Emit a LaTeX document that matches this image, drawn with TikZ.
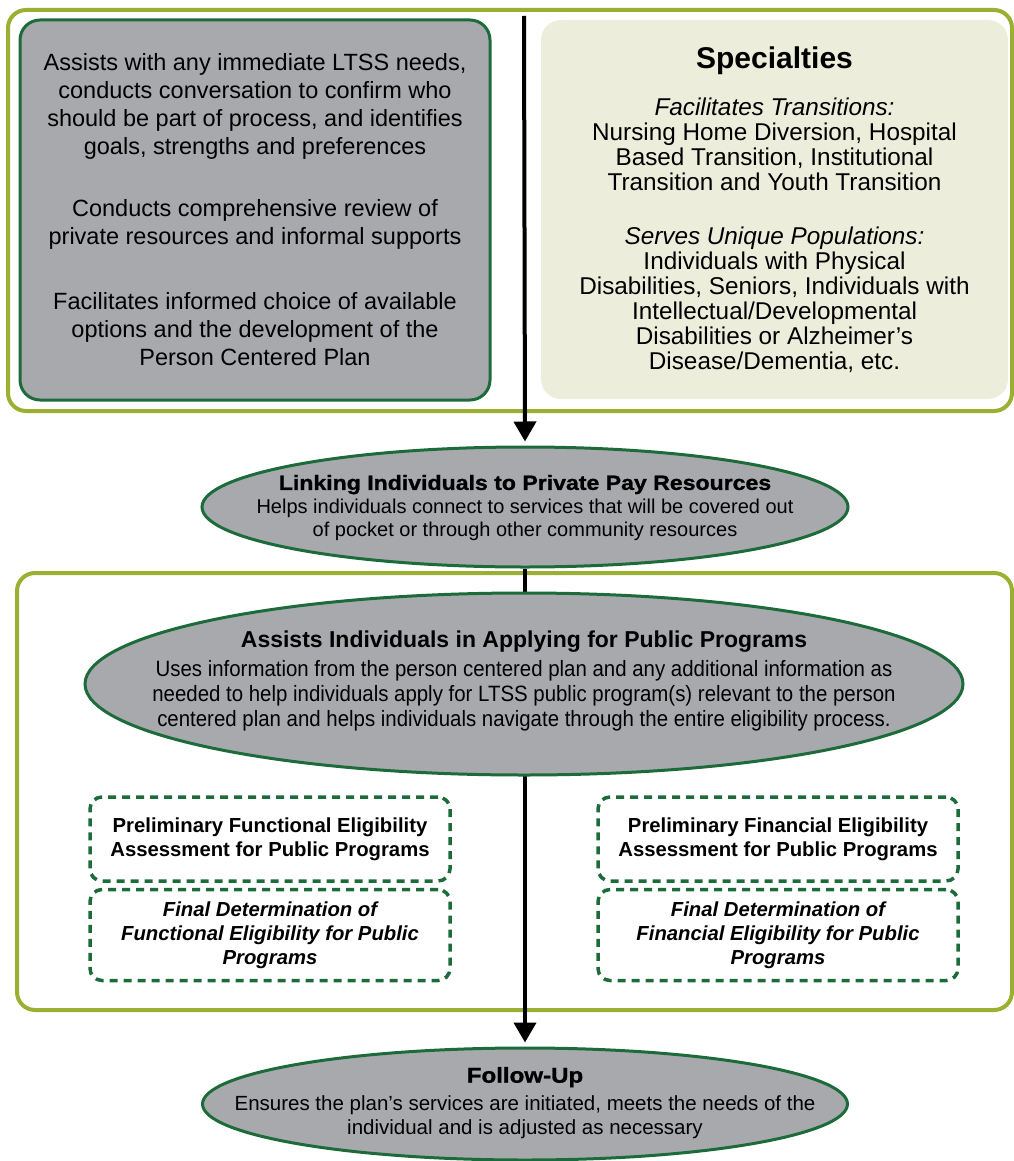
\documentclass[tikz,border=0pt]{standalone}
\usepackage{fontspec}
\setmainfont{Liberation Sans}
\newfontfamily\pubfont[FakeStretch=0.92]{Liberation Sans}
\newfontfamily\blackfont[FakeStretch=1.12,FakeBold=1.2]{Liberation Sans Bold}
\usetikzlibrary{shapes.geometric,arrows.meta}
\definecolor{oliveline}{HTML}{9BB032}
\definecolor{dkgreen}{HTML}{1D6B3B}
\definecolor{grayfill}{HTML}{A7A9AC}
\definecolor{lightfill}{HTML}{ECEEDB}
\pgfdeclarelayer{bg}
\pgfdeclarelayer{mid}
\pgfsetlayers{bg,mid,main}
\begin{document}
\begin{tikzpicture}[x=1pt,y=-1pt,
  oliveframe/.style={draw=oliveline,line width=4pt,rounded corners=18pt},
  graybox/.style={draw=dkgreen,fill=grayfill,line width=3pt,rounded corners=20pt,align=center,inner sep=0pt},
  specbox/.style={fill=lightfill,rounded corners=20pt,align=center,inner sep=0pt},
  oval/.style={ellipse,draw=dkgreen,fill=grayfill,line width=3pt,inner sep=0pt},
  ovaltext/.style={align=center,inner sep=0pt},
  dashbox/.style={draw=dkgreen,line width=3.5pt,dash pattern=on 8pt off 6pt,rounded corners=12pt,
    minimum width=360pt,align=center,inner sep=0pt},
  flow/.style={line width=4pt,-{Triangle[width=22pt,length=20pt]},shorten >=4pt}
]
\useasboundingbox (0,0) rectangle (1013,1161);

\begin{pgfonlayer}{bg}
\draw[oliveframe] (8,10) rectangle (1012,411);
\draw[oliveframe] (17,573) rectangle (1012,1010);
\end{pgfonlayer}

\node[graybox,minimum width=470pt,minimum height=380pt,font=\fontsize{23.5}{28}\selectfont] (assess) at (255,210)
 {Assists with any immediate LTSS needs,\\ conducts conversation to confirm who\\ should be part of process, and identifies\\ goals, strengths and preferences\\[34pt]
  Conducts comprehensive review of\\ private resources and informal supports\\[37pt]
  Facilitates informed choice of available\\ options and the development of the\\ Person Centered Plan};

\node[specbox,minimum width=467pt,minimum height=379pt,font=\fontsize{24.3}{25}\selectfont] (spec) at (774.5,209.5)
 {{\fontsize{30}{30}\selectfont\bfseries Specialties}\\[22pt]
  \textit{Facilitates Transitions:}\\ Nursing Home Diversion, Hospital\\ Based Transition, Institutional\\ Transition and Youth Transition\\[29pt]
  \textit{Serves Unique Populations:}\\ Individuals with Physical\\ Disabilities, Seniors, Individuals with\\ Intellectual/Developmental\\ Disabilities or Alzheimer’s\\ Disease/Dementia, etc.};

\coordinate (start) at (524,16);

\node[oval,minimum width=646pt,minimum height=120pt] (private) at (525,507) {};
\node[ovaltext,font=\fontsize{20}{23.5}\selectfont] (privatetext) at (525,508)
 {{\blackfont\fontsize{20.6}{23.5}\selectfont Linking Individuals to Private Pay Resources}\\ Helps individuals connect to services that will be covered out\\ of pocket or through other community resources};

\node[oval,minimum width=878pt,minimum height=182pt] (public) at (524,684) {};
\node[ovaltext,font=\pubfont\fontsize{22.2}{25}\selectfont] (publictext) at (524,681)
 {{\normalfont\bfseries\fontsize{23}{25}\selectfont Assists Individuals in Applying for Public Programs}\\[4pt]
  Uses information from the person centered plan and any additional information as\\ needed to help individuals apply for LTSS public program(s) relevant to the person\\ centered plan and helps individuals navigate through the entire eligibility process.};

\node[dashbox,minimum height=84pt,font=\bfseries\fontsize{20.3}{24}\selectfont] (funcpre) at (270,839)
 {Preliminary Functional Eligibility\\ Assessment for Public Programs};
\node[dashbox,minimum height=91pt,font=\bfseries\itshape\fontsize{20.3}{24}\selectfont] (funcfin) at (270,935)
 {Final Determination of\\ Functional Eligibility for Public\\ Programs};
\node[dashbox,minimum height=84pt,font=\bfseries\fontsize{20.3}{24}\selectfont] (finpre) at (778,839)
 {Preliminary Financial Eligibility\\ Assessment for Public Programs};
\node[dashbox,minimum height=91pt,font=\bfseries\itshape\fontsize{20.3}{24}\selectfont] (finfin) at (778,935)
 {Final Determination of\\ Financial Eligibility for Public\\ Programs};

\node[oval,minimum width=645pt,minimum height=112pt] (follow) at (525,1104) {};
\node[ovaltext,font=\fontsize{20.5}{24}\selectfont] (followtext) at (525,1103)
 {{\blackfont\fontsize{21.5}{24}\selectfont Follow-Up}\\[4pt] Ensures the plan’s services are initiated, meets the needs of the\\ individual and is adjusted as necessary};

\begin{pgfonlayer}{mid}
\draw[flow] (start) -- (private.north);
\draw[flow] (private.south) -- (follow.north);
\end{pgfonlayer}
\end{tikzpicture}
\end{document}
